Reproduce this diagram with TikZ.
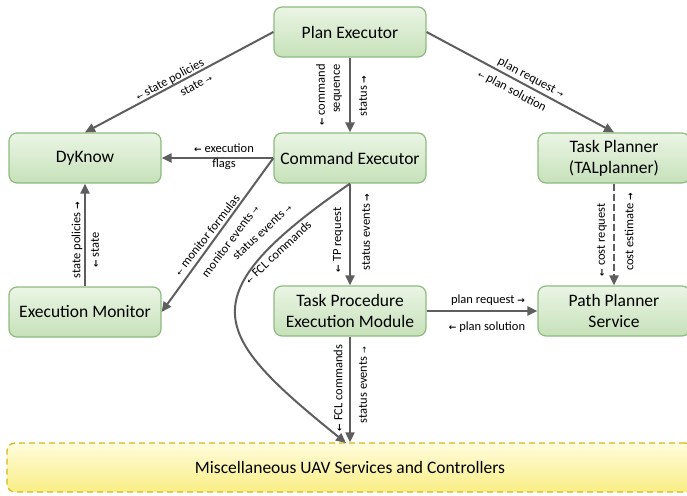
\documentclass[tikz,border=0pt]{standalone}
\usepackage{fontspec}
\setmainfont{Carlito}
\newfontfamily\arrowfont{DejaVu Sans}
\usetikzlibrary{arrows.meta}
\definecolor{boxtop}{HTML}{EBF5E5}
\definecolor{boxbot}{HTML}{C6E1B9}
\definecolor{boxline}{HTML}{8DBB7F}
\definecolor{bartop}{HTML}{FFFCDC}
\definecolor{barbot}{HTML}{F9EE84}
\definecolor{barline}{HTML}{D4B81C}
\definecolor{conncol}{HTML}{5E5E5E}
\newcommand{\ra}{{\arrowfont\fontsize{8}{8}\selectfont →}}
\newcommand{\la}{{\arrowfont\fontsize{8}{8}\selectfont ←}}
\newcommand{\Ra}{{\arrowfont\bfseries\fontsize{9}{9}\selectfont →}}
\newcommand{\La}{{\arrowfont\bfseries\fontsize{9}{9}\selectfont ←}}
\begin{document}
\begin{tikzpicture}[x=1pt, y=-1pt,
  box/.style={draw=boxline, line width=1.2pt, rounded corners=8pt, top color=boxtop, bottom color=boxbot, minimum width=152pt, minimum height=50pt, align=center, font=\fontsize{17.5}{21}\selectfont},
  bar/.style={draw=barline, line width=1.3pt, dash pattern=on 6pt off 4pt, rounded corners=8pt, top color=bartop, bottom color=barbot, minimum width=686pt, minimum height=49pt, font=\fontsize{17.5}{21}\selectfont},
  conn/.style={draw=conncol, line width=2pt, -{Triangle[length=10pt,width=9pt]}},
  lbl/.style={font=\fontsize{12.5}{15}\selectfont, inner sep=0pt, align=center}]
\useasboundingbox (0,0) rectangle (687,495);
\node[box] (plan) at (350,32) {Plan Executor};
\node[box] (dyknow) at (85,158) {DyKnow};
\node[box] (cmd) at (350,158) {Command Executor};
\node[box] (tp) at (614,158) {Task Planner\\(TALplanner)};
\node[box] (mon) at (85,312) {Execution Monitor};
\node[box] (tpem) at (350,311) {Task Procedure\\Execution Module};
\node[box] (path) at (614,311) {Path Planner\\Service};
\node[bar] (misc) at (350,467.5) {Miscellaneous UAV Services and Controllers};
\coordinate (fclend) at (346,443);
\draw[conn](plan.west) -- (dyknow.north);
\draw[conn](plan.south) -- (cmd.north);
\draw[conn](plan.east) -- (tp.north);
\draw[conn](cmd.west) -- (dyknow.east);
\draw[conn](cmd.west) -- (mon.east);
\draw[conn](mon.north) -- (dyknow.south);
\draw[conn](cmd.south) -- (tpem.north);
\draw[conn](cmd.south) .. controls (186,297) and (211,334) .. (fclend);
\draw[conn](tpem.south) -- (misc.north);
\draw[conn](tpem.east) -- (path.west);
\draw[conn, dash pattern=on 7pt off 3pt](tp.south) -- (path.north);
\node[lbl, rotate=28] (lstatepol) at (170,80) {\la\ state policies};
\node[lbl, rotate=28] (lstate) at (196,85) {state \ra};
\node[lbl, rotate=90, align=right] (lcmdseq) at (329,95) {\La\ command\\sequence};
\node[lbl, rotate=90] (lstatus) at (363,96) {status \Ra};
\node[lbl, rotate=-28] (lplanreq) at (531,78) {plan request \ra};
\node[lbl, rotate=-28] (lplansol) at (512,91) {\la\ plan solution};
\node[lbl] (lexflags) at (224,157) {\La\ execution\\flags};
\node[lbl, rotate=52] (lmonform) at (207,235) {\la\ monitor formulas};
\node[lbl, rotate=53] (lmonev) at (230,241) {monitor events \ra};
\node[lbl, rotate=90] (lmonpol) at (77,240) {state policies \Ra};
\node[lbl, rotate=90] (lmonstate) at (95,250) {\La\ state};
\node[lbl, rotate=43] (lcurvestat) at (262,232) {status events \ra};
\node[lbl, rotate=43] (lcurvefcl) at (278,252) {\la\ FCL commands};
\node[lbl, rotate=90] (ltpreq) at (338,240) {\La\ TP request};
\node[lbl, rotate=90] (ltpstat) at (366,232) {status events \Ra};
\node[lbl] (lppreq) at (488,300) {plan request \Ra};
\node[lbl] (lppsol) at (487,327) {\La\ plan solution};
\node[lbl, rotate=90] (lcostreq) at (602,240) {\La\ cost request};
\node[lbl, rotate=90] (lcostest) at (629,232) {cost estimate \Ra};
\node[lbl, rotate=90] (lfcl) at (338,388) {\La\ FCL commands};
\node[lbl, rotate=90] (lfclstat) at (363,385) {status events \ra};
\end{tikzpicture}
\end{document}
